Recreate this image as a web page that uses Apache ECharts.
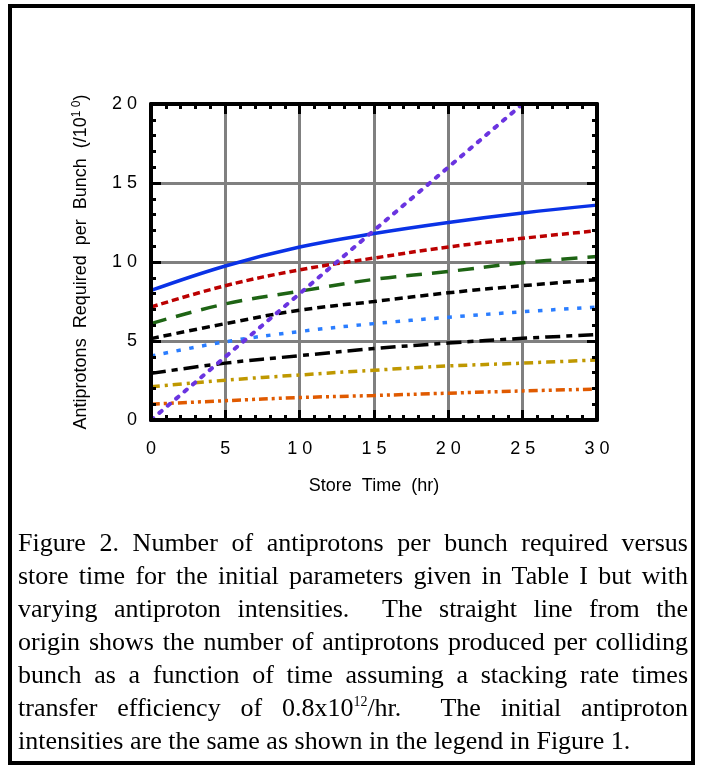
<!DOCTYPE html>
<html>
<head>
<meta charset="utf-8">
<script src="https://cdn.jsdelivr.net/npm/echarts@6/dist/echarts.min.js"></script>
<style>
  html, body { margin: 0; padding: 0; background: #fff; }
  #wrap { position: relative; width: 705px; height: 766px; overflow: hidden; }
  #chart { position: absolute; left: 0; top: 0; width: 705px; height: 766px; }
  #frame {
    position: absolute; left: 8px; top: 4px; width: 687px; height: 761px;
    box-sizing: border-box; border: 4px solid #000; pointer-events: none;
  }
  #caption {
    position: absolute; left: 18px; top: 526px; width: 670px;
    font-family: "Liberation Serif", "Times New Roman", serif;
    font-size: 26px; line-height: 33px; color: #000;
  }
  #caption .ln { text-align: justify; text-align-last: justify; white-space: nowrap; }
  #caption .ln.last { text-align: left; text-align-last: left; }
  #caption sup { font-size: 14px; line-height: 0; vertical-align: 10px; }
</style>
</head>
<body>
<div id="wrap">
  <div id="chart"></div>
  <div id="frame"></div>
  <div id="caption">
    <div class="ln">Figure 2. Number of antiprotons per bunch required versus</div>
    <div class="ln">store time for the initial parameters given in Table I but with</div>
    <div class="ln">varying antiproton intensities.&nbsp; The straight line from the</div>
    <div class="ln">origin shows the number of antiprotons produced per colliding</div>
    <div class="ln">bunch as a function of time assuming a stacking rate times</div>
    <div class="ln">transfer efficiency of 0.8x10<sup>12</sup>/hr.&nbsp; The initial antiproton</div>
    <div class="ln last">intensities are the same as shown in the legend in Figure 1.</div>
  </div>
</div>
<script>
// Store time (hr) at which each curve is sampled
const hours = [0, 5, 10, 15, 20, 25, 30];

// Antiprotons required per bunch (units of 1e10), one curve per initial intensity
const required1 = [8.2, 9.75, 10.95, 11.8, 12.5, 13.1, 13.6];
const required2 = [7.15, 8.5, 9.5, 10.25, 10.95, 11.5, 11.98];
const required3 = [6.1, 7.35, 8.15, 8.9, 9.4, 9.95, 10.35];
const required4 = [5.15, 6.1, 6.95, 7.5, 8.05, 8.5, 8.88];
const required5 = [4.05, 4.95, 5.6, 6.1, 6.5, 6.85, 7.15];
const required6 = [2.95, 3.6, 4.07, 4.52, 4.87, 5.17, 5.4];
const required7 = [2.1, 2.52, 2.85, 3.15, 3.42, 3.6, 3.8];
const required8 = [1.0, 1.22, 1.42, 1.55, 1.7, 1.84, 1.96];

// Antiprotons produced per colliding bunch (0.8e12/hr stacking x transfer)
const producedHours = [0, 5, 10, 15, 20, 25];
const produced = [0, 4, 8, 12, 16, 20];

// Axis ticks
const xTicks = [0, 5, 10, 15, 20, 25, 30];
const yTicks = [0, 5, 10, 15, 20];

const pairs = (xs, ys) => xs.map((x, i) => [x, ys[i]]);
const spaced = v => String(v).split('').join(' ');

const FONT = '"Liberation Sans", Arial, sans-serif';

function frameAxis(position, withLabels, isX) {
  return {
    type: 'value',
    position: position,
    min: isX ? xTicks[0] : yTicks[0],
    max: isX ? xTicks[xTicks.length - 1] : yTicks[yTicks.length - 1],
    interval: 5,
    z: 5,
    axisLine: { show: true, onZero: false, lineStyle: { color: '#000', width: 4 } },
    axisTick: { show: true, inside: true, length: 10, lineStyle: { color: '#000', width: 3 } },
    minorTick: { show: true, splitNumber: 5, length: 5, lineStyle: { color: '#000', width: 3 } },
    splitLine: { show: false },
    axisLabel: withLabels ? {
      show: true, color: '#000', fontFamily: FONT, fontSize: 18,
      margin: isX ? 20 : 14, formatter: spaced
    } : { show: false }
  };
}

function gridAxis(position, isX) {
  return {
    type: 'value',
    position: position,
    min: isX ? xTicks[0] : yTicks[0],
    max: isX ? xTicks[xTicks.length - 1] : yTicks[yTicks.length - 1],
    interval: 5,
    z: 0,
    axisLine: { show: false },
    axisTick: { show: false },
    axisLabel: { show: false },
    splitLine: { show: true, lineStyle: { color: '#808080', width: 3 } }
  };
}

const xBottom = frameAxis('bottom', true, true);
xBottom.name = 'Store  Time  (hr)';
xBottom.nameLocation = 'middle';
xBottom.nameGap = 57;
xBottom.nameTextStyle = { color: '#000', fontFamily: FONT, fontSize: 18 };

const yLeft = frameAxis('left', true, false);
yLeft.name = 'Antiprotons  Required  per  Bunch  (/10{sup|1 0})';
yLeft.nameLocation = 'middle';
yLeft.nameGap = 59;
yLeft.nameTextStyle = {
  color: '#000', fontFamily: FONT, fontSize: 18, lineHeight: 21,
  rich: { sup: { color: '#000', fontFamily: FONT, fontSize: 12, lineHeight: 12, verticalAlign: 'top' } }
};

function curve(data, color, dash, width, cap) {
  return {
    type: 'line',
    xAxisIndex: 0, yAxisIndex: 0,
    data: data,
    smooth: 0.4,
    showSymbol: false,
    symbol: 'none',
    z: 2,
    lineStyle: { color: color, width: width || 3.5, type: dash, cap: cap || 'butt' }
  };
}

const option = {
  animation: false,
  backgroundColor: '#fff',
  grid: { left: 151, top: 104, width: 446, height: 316, containLabel: false },
  xAxis: [xBottom, frameAxis('top', false, true), gridAxis('bottom', true)],
  yAxis: [yLeft, frameAxis('right', false, false), gridAxis('left', false)],
  series: [
    curve(pairs(hours, required1), '#0a32e6', 'solid'),
    curve(pairs(hours, required2), '#bb0000', [7, 4]),
    curve(pairs(hours, required3), '#1e6414', [16, 10]),
    curve(pairs(hours, required4), '#000000', [8, 5]),
    curve(pairs(hours, required5), '#2a7dff', [4.5, 8.5]),
    curve(pairs(hours, required6), '#000000', [15, 6, 6, 6]),
    curve(pairs(hours, required7), '#bf9800', [9, 5, 3, 5]),
    curve(pairs(hours, required8), '#e05a00', [9, 4, 3, 4, 3, 4]),
    {
      type: 'line',
      xAxisIndex: 0, yAxisIndex: 0,
      data: pairs(producedHours, produced),
      showSymbol: false,
      symbol: 'none',
      z: 3,
      lineStyle: { color: '#6a34e0', width: 4, type: [3, 8], cap: 'round' }
    }
  ]
};

const chart = echarts.init(document.getElementById('chart'), null, { renderer: 'canvas' });
chart.setOption(option);
</script>
</body>
</html>
